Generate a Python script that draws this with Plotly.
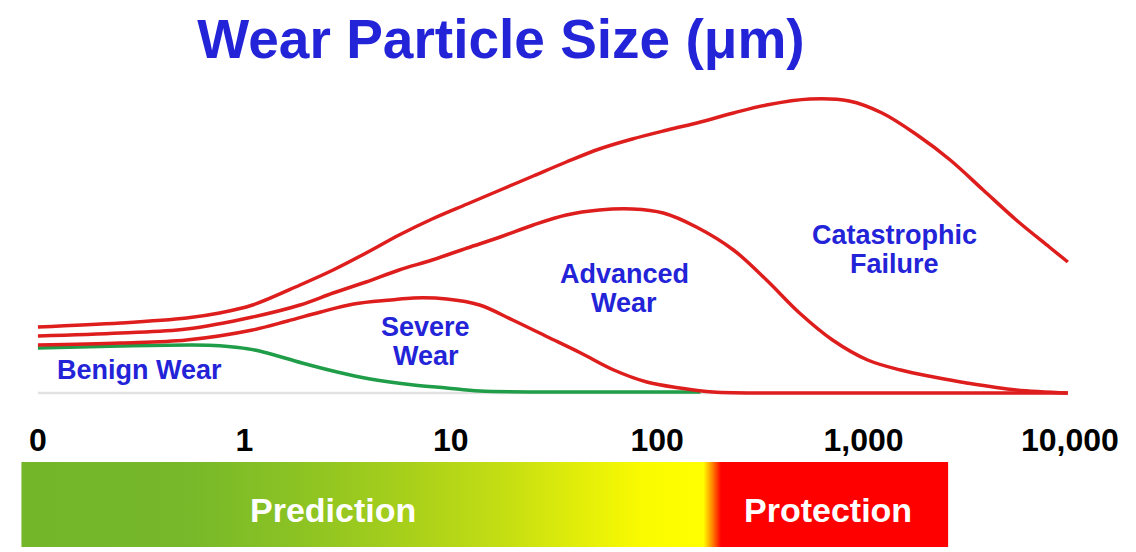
import plotly.graph_objects as go

# x = position on the size scale in decades (0 -> "0", 1 -> "1", 2 -> "10", ...)
# y = relative amount of particles (arbitrary units above the baseline)
tickPositions = [0, 1, 2, 3, 4, 5]
tickLabels = ["0", "1", "10", "100", "1,000", "10,000"]

benignX = [0.00, 0.40, 0.75, 0.88, 0.97, 1.05, 1.12, 1.28, 1.45, 1.61, 1.82, 1.98, 2.14, 2.47, 3.21]
benignY = [45, 47, 48, 47.3, 45.5, 43, 39.5, 30, 21, 14, 8, 5, 2, 1, 1]

severeX = [0.00, 0.40, 0.72, 1.04, 1.21, 1.37, 1.53, 1.71, 1.82, 1.98, 2.14, 2.30, 2.47,
           2.63, 2.79, 2.95, 3.11, 3.27, 3.69, 4.99]
severeY = [48, 50, 53, 63, 72, 81, 89, 93, 95, 94, 88, 73, 56, 40, 23, 11, 5, 1, 0, 0]

advancedX = [0.00, 0.40, 0.72, 1.04, 1.27, 1.43, 1.59, 1.75, 1.91, 2.08, 2.24, 2.40, 2.56,
             2.72, 2.88, 3.03, 3.19, 3.37, 3.53, 3.69, 3.85, 4.02, 4.18, 4.34, 4.50, 4.74, 4.99]
advancedY = [57, 60, 64, 76, 88, 100, 111, 123, 133, 145, 156, 168, 178,
             183, 184, 180, 166, 143, 113, 80, 53, 33, 23, 16, 10, 3, 0]

catastrophicX = [0.00, 0.40, 0.72, 0.88, 1.04, 1.27, 1.43, 1.59, 1.75, 1.91, 2.08, 2.24, 2.40,
                 2.56, 2.72, 2.88, 3.05, 3.21, 3.37, 3.53, 3.74, 3.93, 4.09, 4.26, 4.42, 4.58,
                 4.74, 4.90, 4.99]
catastrophicY = [66, 70, 75, 80, 88, 108, 123, 140, 158, 174, 189, 203, 217,
                 231, 244, 254, 263, 271, 280, 288, 294, 292, 280, 258, 233, 203,
                 173, 146, 131]

stageNames = ["Benign Wear", "Severe<br>Wear", "Advanced<br>Wear", "Catastrophic<br>Failure"]
zoneNames = ["Prediction", "Protection"]
zoneEdges = [-0.08, 3.26, 4.41]

red = "#de1d1d"
green = "#1f9d48"
blue = "#2323d8"
font = "Liberation Sans, Arial, Helvetica, sans-serif"

fig = go.Figure()

# faint baseline
fig.add_trace(go.Scatter(x=[0, 4.99], y=[0, 0], mode="lines",
                         line=dict(color="#e2e2e2", width=2.5), hoverinfo="skip"))

curveLine = dict(width=3.5, shape="spline", smoothing=1.0)
fig.add_trace(go.Scatter(x=benignX, y=benignY, mode="lines", name="Benign Wear",
                         line=dict(color=green, **curveLine)))
fig.add_trace(go.Scatter(x=severeX, y=severeY, mode="lines", name="Severe Wear",
                         line=dict(color=red, **curveLine)))
fig.add_trace(go.Scatter(x=advancedX, y=advancedY, mode="lines", name="Advanced Wear",
                         line=dict(color=red, **curveLine)))
fig.add_trace(go.Scatter(x=catastrophicX, y=catastrophicY, mode="lines", name="Catastrophic Failure",
                         line=dict(color=red, **curveLine)))

# gradient bar: prediction -> protection
barBottom, barTop = -154, -69
fig.add_trace(go.Scatter(
    x=[zoneEdges[0], zoneEdges[-1], zoneEdges[-1], zoneEdges[0], zoneEdges[0]],
    y=[barBottom, barBottom, barTop, barTop, barBottom],
    mode="lines", line=dict(width=0), fill="toself",
    fillgradient=dict(type="horizontal", colorscale=[
        [0.0, "#74b62a"], [0.175, "#76b82a"], [0.30, "#8cc323"], [0.41, "#a6cf1b"],
        [0.52, "#c4de13"], [0.62, "#e8f107"], [0.672, "#fbfb00"], [0.736, "#ffff00"],
        [0.745, "#ff8c00"], [0.755, "#ff0000"], [1.0, "#ff0000"]]),
    hoverinfo="skip"))

annotations = []
stagePos = [(0.49, 23), (1.88, 52), (2.84, 105), (4.15, 144)]
for name, (cx, cy) in zip(stageNames, stagePos):
    lines = name.split("<br>")
    for i, part in enumerate(lines):
        offset = (len(lines) - 1) / 2 * 29 - i * 29
        annotations.append(dict(x=cx, y=cy + offset, text=part, showarrow=False,
                                font=dict(family=font, size=27, color=blue, weight="bold")))
zoneCenters = [1.43, 3.83]
for name, cx in zip(zoneNames, zoneCenters):
    annotations.append(dict(x=cx, y=-117, text=name, showarrow=False,
                            font=dict(family=font, size=34, color="white", weight="bold")))

fig.update_layout(
    width=1136, height=552,
    margin=dict(l=0, r=0, t=0, b=0),
    paper_bgcolor="white", plot_bgcolor="white",
    showlegend=False,
    title=dict(text="Wear Particle Size (μm)", x=0.434, xanchor="center",
               y=0.979, yanchor="top",
               font=dict(family=font, size=55, color=blue, weight="bold")),
    xaxis=dict(range=[-0.145, 5.359], tickvals=tickPositions, ticktext=tickLabels,
               anchor="free", position=0.2572, showgrid=False, zeroline=False,
               showline=False, ticks="",
               tickfont=dict(family=font, size=32, color="black", weight="bold")),
    yaxis=dict(range=[-167, 385], visible=False),
    annotations=annotations,
)

fig.write_html("out.html")
